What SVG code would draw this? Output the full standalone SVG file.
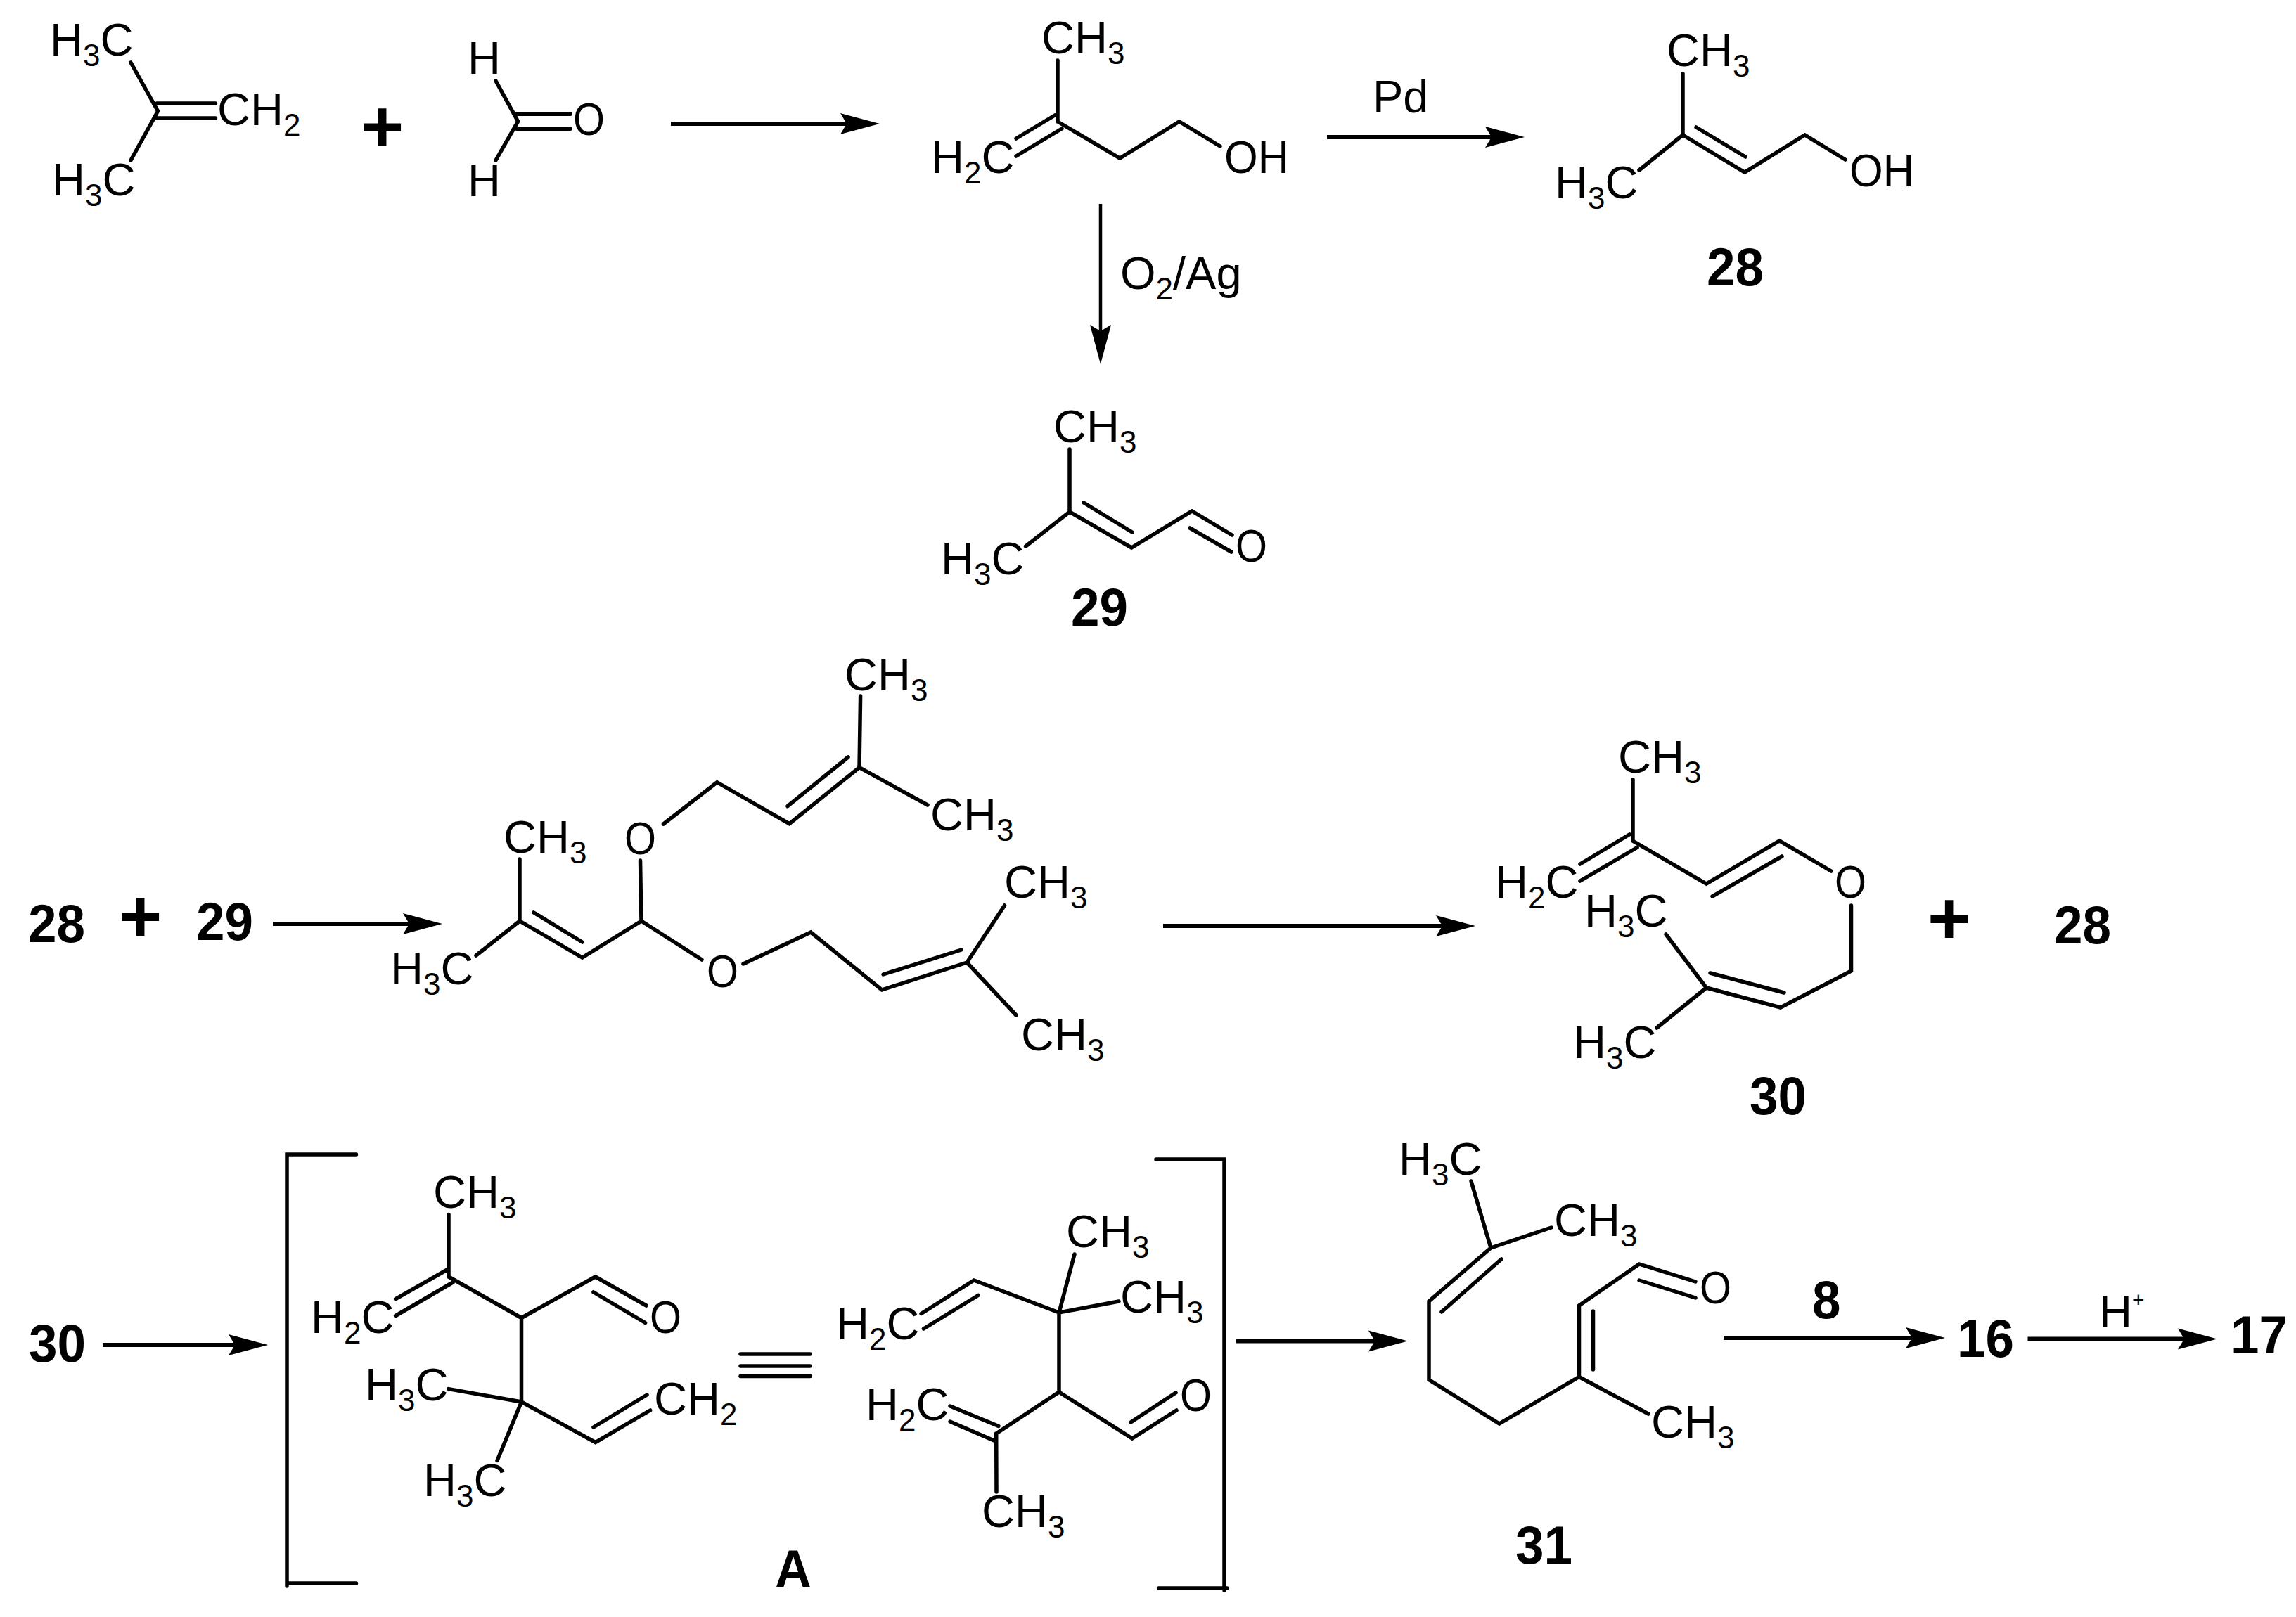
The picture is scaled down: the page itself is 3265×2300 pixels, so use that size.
<svg xmlns="http://www.w3.org/2000/svg" width="3265" height="2300" viewBox="0 0 3265 2300">
<style>
text{font-family:"Liberation Sans",Arial,sans-serif;fill:#000}
.t{font-size:65px}
.s{font-size:44px}
.b{font-size:76px;font-weight:700}
.p{font-size:105px;font-weight:700}
path{fill:none;stroke:#000;stroke-width:5.5;stroke-linecap:round;stroke-linejoin:miter}
#connectors path{stroke-width:6;stroke-linecap:butt}
#connectors path.a{marker-end:url(#head)}
#connectors path.thin{stroke-width:4.5}
marker path{fill:#000;stroke:none}
</style>
<defs>
<marker id="head" markerUnits="userSpaceOnUse" markerWidth="60" markerHeight="34" viewBox="0 0 60 34" refX="36" refY="17" orient="auto">
<path d="M56,17 L0,2 L9,17 L0,32 Z"/>
</marker>
</defs>
<rect width="3265" height="2300" fill="#fff"/>

<g id="connectors">
<path class="a" d="M954,176H1231"/>
<path class="a" d="M1887,195H2148"/>
<path class="a thin" d="M1565,290V498"/>
<path class="a" d="M388,1314H609"/>
<path class="a" d="M1654,1317H2078"/>
<path class="a" d="M146,1913H361"/>
<path class="a" d="M1758,1907.500H1982"/>
<path class="a" d="M2451,1903H2746"/>
<path class="a" d="M2883.500,1904.500H3133"/>
</g>

<g id="isobutene">
<path d="M186,89L224.500,158L186,228M223,147H306.500M223,168H306.500"/>
<text class="t" x="71" y="79">H<tspan class="s" dy="15">3</tspan><tspan dy="-15">C</tspan></text>
<text class="t" x="74" y="278">H<tspan class="s" dy="15">3</tspan><tspan dy="-15">C</tspan></text>
<text class="t" x="309" y="178">CH<tspan class="s" dy="15">2</tspan></text>
</g>
<g id="plus-1"><text class="p" x="513" y="216">+</text></g>
<g id="formaldehyde">
<path d="M705,115L736.600,172.700L705,228M734.500,162.300H811M734.500,183.300H811"/>
<text class="t" x="665" y="105">H</text>
<text class="t" x="665" y="279">H</text>
<text class="t" x="815" y="192" textLength="45" lengthAdjust="spacingAndGlyphs">O</text>
</g>
<g id="isoprenol">
<path d="M1504,86V173M1500,164L1445,197M1510,183L1445,222M1504,173L1592.500,225L1677,173L1735,208"/>
<text class="t" x="1481" y="76">CH<tspan class="s" dy="15">3</tspan></text>
<text class="t" x="1324" y="246">H<tspan class="s" dy="15">2</tspan><tspan dy="-15">C</tspan></text>
<text class="t" x="1741" y="246" textLength="92" lengthAdjust="spacingAndGlyphs">OH</text>
</g>
<g id="label-pd"><text class="t" x="1952" y="160">Pd</text></g>
<g id="label-o2ag"><text class="t" x="1593" y="411">O<tspan class="s" dy="15">2</tspan><tspan dy="-15">/Ag</tspan></text></g>
<g id="compound-28">
<path d="M2393,105V192M2331,242L2393,192L2481,245L2566.500,192L2624,227M2412,181L2482,223"/>
<text class="t" x="2370" y="94">CH<tspan class="s" dy="15">3</tspan></text>
<text class="t" x="2211" y="282">H<tspan class="s" dy="15">3</tspan><tspan dy="-15">C</tspan></text>
<text class="t" x="2630" y="265" textLength="92" lengthAdjust="spacingAndGlyphs">OH</text>
<text class="b" x="2427" y="406" textLength="81" lengthAdjust="spacingAndGlyphs">28</text>
</g>
<g id="compound-29">
<path d="M1521,639V728M1458.600,777L1521,728L1609,779L1695,727L1752,761M1541,715L1610,757M1692,751L1751,785"/>
<text class="t" x="1498" y="629">CH<tspan class="s" dy="15">3</tspan></text>
<text class="t" x="1338" y="817">H<tspan class="s" dy="15">3</tspan><tspan dy="-15">C</tspan></text>
<text class="t" x="1757" y="799" textLength="45" lengthAdjust="spacingAndGlyphs">O</text>
<text class="b" x="1523" y="890" textLength="81" lengthAdjust="spacingAndGlyphs">29</text>
</g>

<g id="row3-reactants">
<text class="b" x="40" y="1340" textLength="81" lengthAdjust="spacingAndGlyphs">28</text>
<text class="p" x="169" y="1339">+</text>
<text class="b" x="279" y="1337" textLength="81" lengthAdjust="spacingAndGlyphs">29</text>
</g>
<g id="acetal">
<path d="M739,1222V1310M677,1359L739,1310L828,1362L912,1310L910.500,1224M759,1298L828,1340M912,1310L998,1365M943.500,1172L1019.700,1112.700L1122.500,1171.700L1222,1091.700L1223.600,990M1206,1077L1120,1146.700M1222,1091.700L1319,1145M1057,1371L1153,1326L1254,1408L1375,1369L1428.500,1288M1256,1386L1367,1351M1375,1369L1445,1444"/>
<text class="t" x="716" y="1213">CH<tspan class="s" dy="15">3</tspan></text>
<text class="t" x="555" y="1400">H<tspan class="s" dy="15">3</tspan><tspan dy="-15">C</tspan></text>
<text class="t" x="888" y="1215" textLength="45" lengthAdjust="spacingAndGlyphs">O</text>
<text class="t" x="1005" y="1404" textLength="45" lengthAdjust="spacingAndGlyphs">O</text>
<text class="t" x="1201" y="982">CH<tspan class="s" dy="15">3</tspan></text>
<text class="t" x="1323" y="1181">CH<tspan class="s" dy="15">3</tspan></text>
<text class="t" x="1428" y="1277">CH<tspan class="s" dy="15">3</tspan></text>
<text class="t" x="1452" y="1494">CH<tspan class="s" dy="15">3</tspan></text>
</g>
<g id="compound-30">
<path d="M2322,1109V1196M2317,1187L2247,1229M2328,1205.500L2247,1253M2322,1196L2426.500,1257L2530.500,1196L2604,1239M2435,1275L2534,1218M2632.500,1288V1381L2532,1433L2426.500,1405L2369,1329M2537,1412L2432,1384M2426.500,1405L2356,1462"/>
<text class="t" x="2301" y="1099">CH<tspan class="s" dy="15">3</tspan></text>
<text class="t" x="2126" y="1277">H<tspan class="s" dy="15">2</tspan><tspan dy="-15">C</tspan></text>
<text class="t" x="2609" y="1277" textLength="45" lengthAdjust="spacingAndGlyphs">O</text>
<text class="t" x="2253" y="1318">H<tspan class="s" dy="15">3</tspan><tspan dy="-15">C</tspan></text>
<text class="t" x="2237" y="1505">H<tspan class="s" dy="15">3</tspan><tspan dy="-15">C</tspan></text>
<text class="b" x="2488" y="1585" textLength="81" lengthAdjust="spacingAndGlyphs">30</text>
</g>
<g id="row3-products">
<text class="p" x="2741" y="1342">+</text>
<text class="b" x="2921" y="1342" textLength="81" lengthAdjust="spacingAndGlyphs">28</text>
</g>

<g id="row4-start"><text class="b" x="41" y="1937" textLength="81" lengthAdjust="spacingAndGlyphs">30</text></g>
<g id="intermediate-A">
<path d="M506.500,1642H408V2256M408,2252H506.500M1644,1649H1741V2262M1647.600,2259H1745"/>
<path d="M638,1727.500V1816M635,1806.500L562.600,1847.700M644,1824L562.600,1871.500M638,1816L741.500,1874.500L846.700,1816L919,1857M844,1838L917.600,1881.500M741.500,1874.500V1994M638,1975.600L741.500,1994M741.500,1994L707,2077.500M741.500,1994L846.700,2051.500L924.600,2006M844,2030L920,1984"/>
<text class="t" x="616" y="1718">CH<tspan class="s" dy="15">3</tspan></text>
<text class="t" x="442" y="1896">H<tspan class="s" dy="15">2</tspan><tspan dy="-15">C</tspan></text>
<text class="t" x="924" y="1896" textLength="45" lengthAdjust="spacingAndGlyphs">O</text>
<text class="t" x="519" y="1992">H<tspan class="s" dy="15">3</tspan><tspan dy="-15">C</tspan></text>
<text class="t" x="602" y="2128">H<tspan class="s" dy="15">3</tspan><tspan dy="-15">C</tspan></text>
<text class="t" x="930" y="2012">CH<tspan class="s" dy="15">2</tspan></text>
<path d="M1053,1926H1152M1053,1943H1152M1053,1957.500H1152"/>
<path d="M1528,1784L1506,1867M1591,1851L1506,1867L1385,1821L1310,1868.500M1391,1842.500L1313.400,1890M1506,1867V1980L1416.700,2039L1417,2122M1420,2028.500L1351,2000M1413.500,2049L1351,2022M1506,1980L1610,2046L1673,2006M1608,2023L1672,1981"/>
<text class="t" x="1516" y="1774">CH<tspan class="s" dy="15">3</tspan></text>
<text class="t" x="1593" y="1867">CH<tspan class="s" dy="15">3</tspan></text>
<text class="t" x="1189" y="1905">H<tspan class="s" dy="15">2</tspan><tspan dy="-15">C</tspan></text>
<text class="t" x="1231" y="2020">H<tspan class="s" dy="15">2</tspan><tspan dy="-15">C</tspan></text>
<text class="t" x="1396" y="2172">CH<tspan class="s" dy="15">3</tspan></text>
<text class="t" x="1678" y="2007" textLength="45" lengthAdjust="spacingAndGlyphs">O</text>
<text class="b" x="1102" y="2258" textLength="52" lengthAdjust="spacingAndGlyphs">A</text>
</g>
<g id="compound-31">
<path d="M2092,1680L2120,1775L2206,1746M2120,1775L2032,1851V1962.500L2132,2025L2245.500,1958.500L2344,2011M2135,1791L2050,1866M2245.500,1958.500V1857L2331,1798L2411,1823M2265.500,1948V1865M2331,1821L2411,1846"/>
<text class="t" x="1989" y="1671">H<tspan class="s" dy="15">3</tspan><tspan dy="-15">C</tspan></text>
<text class="t" x="2210" y="1758">CH<tspan class="s" dy="15">3</tspan></text>
<text class="t" x="2348" y="2045">CH<tspan class="s" dy="15">3</tspan></text>
<text class="t" x="2417" y="1854" textLength="45" lengthAdjust="spacingAndGlyphs">O</text>
<text class="b" x="2155" y="2224" textLength="81" lengthAdjust="spacingAndGlyphs">31</text>
</g>
<g id="label-8"><text class="b" x="2577" y="1875" textLength="40.500" lengthAdjust="spacingAndGlyphs">8</text></g>
<g id="compound-16"><text class="b" x="2783" y="1930" textLength="81" lengthAdjust="spacingAndGlyphs">16</text></g>
<g id="label-h"><text class="t" x="2985" y="1888">H<tspan font-size="30" dy="-29">+</tspan></text></g>
<g id="compound-17"><text class="b" x="3172" y="1925" textLength="81" lengthAdjust="spacingAndGlyphs">17</text></g>
</svg>
